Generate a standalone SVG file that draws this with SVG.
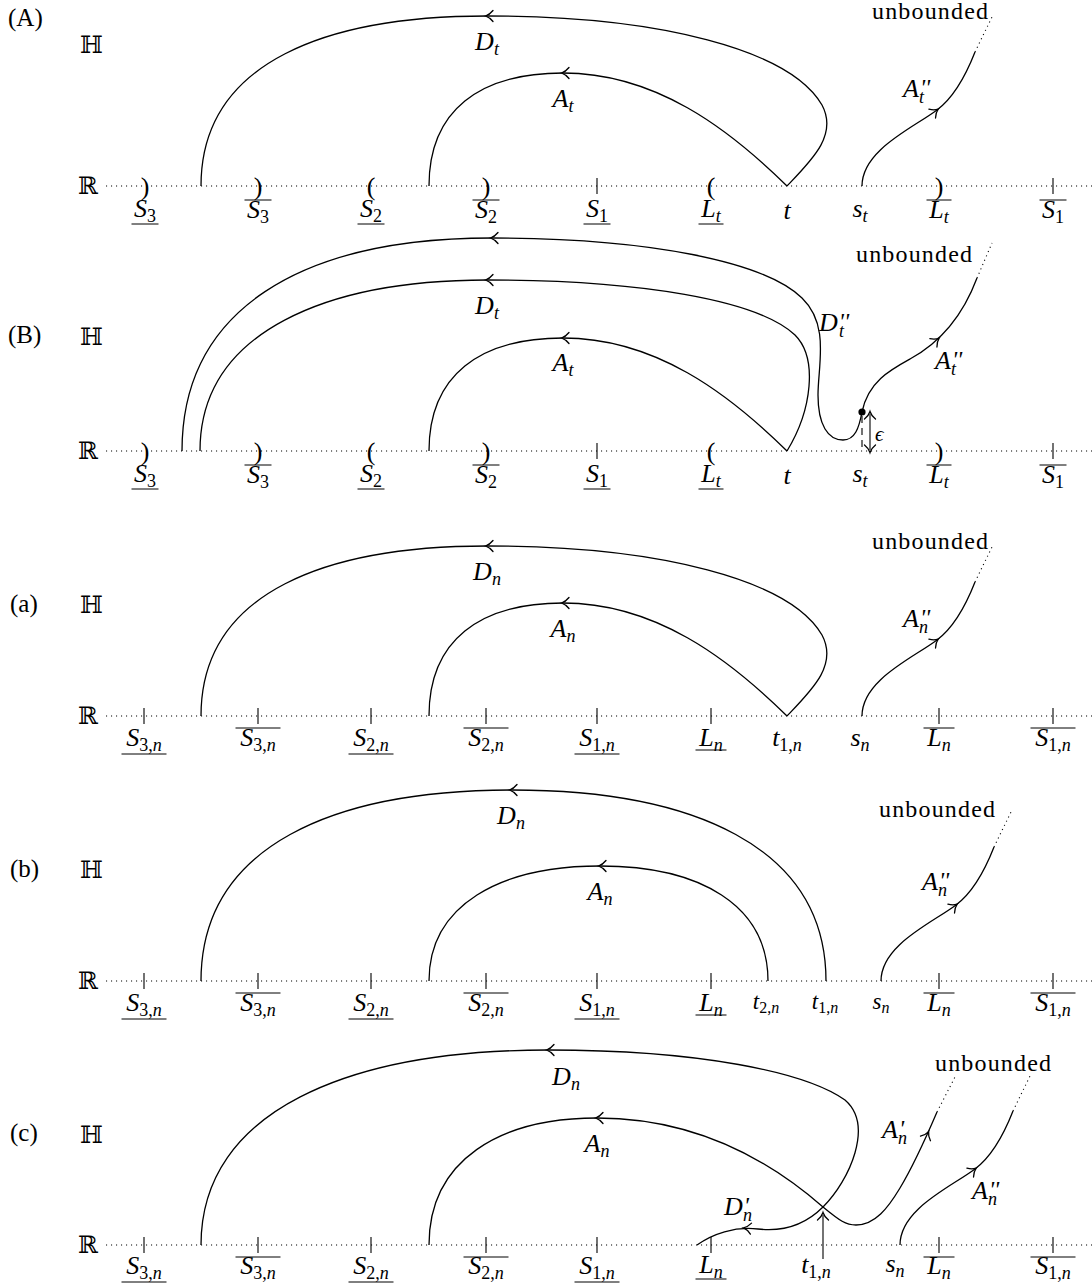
<svg xmlns="http://www.w3.org/2000/svg" width="1092" height="1285" viewBox="0 0 1092 1285">
<style>
.ax{stroke:#000;stroke-width:1.1;stroke-dasharray:1.1 3.9;fill:none}
.c{fill:none;stroke:#000;stroke-width:1.3}
.dt{fill:none;stroke:#000;stroke-width:1.1;stroke-dasharray:1.1 3.6}
.tk{stroke:#000;stroke-width:1.1;fill:none}
.ln{stroke:#000;stroke-width:1;fill:none}
text{font-family:"Liberation Serif","DejaVu Serif",serif;fill:#000}
.m{font-style:italic;font-size:26px}
.ms{font-style:italic;font-size:23px}
.s{font-size:18px}
.r{font-style:normal}
.pr{font-style:italic;font-size:24px}
.pl{font-size:25px}
.bb{font-family:"DejaVu Serif","DejaVu Sans",serif;font-size:24px}
.ub{font-size:24px}
.pa{font-size:26px}
</style>
<defs>
<path id="ah" d="M-6,-5.5 Q-2.5,-1.2 1.5,0 Q-2.5,1.2 -6,5.5" fill="none" stroke="#000" stroke-width="1.3" stroke-linecap="round"/>
</defs>

<!-- ================= Panel A ================= -->
<g id="panel-A">
<text class="pl" x="8" y="26">(A)</text>
<text class="bb" x="80" y="53">ℍ</text>
<text class="bb" x="78" y="194">ℝ</text>
<path class="ax" d="M106,186H1092"/>
<g id="A-ticks">
<text class="pa" text-anchor="middle" x="145" y="195">)</text>
<text class="pa" text-anchor="middle" x="258" y="195">)</text>
<text class="pa" text-anchor="middle" x="371" y="195">(</text>
<text class="pa" text-anchor="middle" x="486" y="195">)</text>
<text class="pa" text-anchor="middle" x="711" y="195">(</text>
<text class="pa" text-anchor="middle" x="939" y="195">)</text>
<path class="tk" d="M597,178v16M1053,178v16"/>
</g>
<g id="A-labels">
<text class="m" text-anchor="middle" x="145" y="217">S<tspan class="s r" dy="5">3</tspan></text>
<text class="m" text-anchor="middle" x="258" y="218">S<tspan class="s r" dy="5">3</tspan></text>
<text class="m" text-anchor="middle" x="371" y="217">S<tspan class="s r" dy="5">2</tspan></text>
<text class="m" text-anchor="middle" x="486" y="218">S<tspan class="s r" dy="5">2</tspan></text>
<text class="m" text-anchor="middle" x="597" y="217">S<tspan class="s r" dy="5">1</tspan></text>
<text class="m" text-anchor="middle" x="711" y="217">L<tspan class="s" dy="5">t</tspan></text>
<text class="m" text-anchor="middle" x="787" y="219">t</text>
<text class="m" text-anchor="middle" x="860" y="217">s<tspan class="s" dy="5">t</tspan></text>
<text class="m" text-anchor="middle" x="939" y="218">L<tspan class="s" dy="5">t</tspan></text>
<text class="m" text-anchor="middle" x="1053" y="218">S<tspan class="s r" dy="5">1</tspan></text>
<path class="ln" d="M131.5,224h27M357.5,224h27M583.5,224h27M698.5,224h25M244.5,200h27M472.5,200h27M926.5,200h25M1039.5,200h27"/>
<text class="m" text-anchor="middle" x="487" y="50">D<tspan class="s" dy="5">t</tspan></text>
<text class="m" text-anchor="middle" x="563" y="107">A<tspan class="s" dy="5">t</tspan></text>
<text class="m" x="903" y="97">A<tspan class="pr" dx="1" dy="-2">''</tspan><tspan class="s" x="919" y="103">t</tspan></text>
<text class="ub" x="872" y="19" textLength="116" lengthAdjust="spacing">unbounded</text>
</g>
<g id="A-connectors">
<path class="c" d="M201,186C201,60 330,16 487,16C660,16 790,50 822,105C838,135 812,160 787,186"/>
<path class="c" d="M429,186C429,110 480,73 563,73C655,73 728,128 787,186"/>
<path class="c" d="M862,186C862,150 913,128 937,110C953,98 966,75 975,52"/>
<path class="dt" d="M975,52L992,17"/>
<use href="#ah" transform="translate(487,16) rotate(180)"/>
<use href="#ah" transform="translate(563,73) rotate(180)"/>
<use href="#ah" transform="translate(937,110) rotate(-37)"/>
</g>
</g>

<!-- ================= Panel B ================= -->
<g id="panel-B">
<text class="pl" x="8" y="343">(B)</text>
<text class="bb" x="80" y="345">ℍ</text>
<text class="bb" x="78" y="459">ℝ</text>
<path class="ax" d="M106,451H1092"/>
<g id="B-ticks">
<text class="pa" text-anchor="middle" x="145" y="460">)</text>
<text class="pa" text-anchor="middle" x="258" y="460">)</text>
<text class="pa" text-anchor="middle" x="371" y="460">(</text>
<text class="pa" text-anchor="middle" x="486" y="460">)</text>
<text class="pa" text-anchor="middle" x="711" y="460">(</text>
<text class="pa" text-anchor="middle" x="939" y="460">)</text>
<path class="tk" d="M597,443v16M1053,443v16"/>
</g>
<g id="B-labels">
<text class="m" text-anchor="middle" x="145" y="482">S<tspan class="s r" dy="5">3</tspan></text>
<text class="m" text-anchor="middle" x="258" y="483">S<tspan class="s r" dy="5">3</tspan></text>
<text class="m" text-anchor="middle" x="371" y="482">S<tspan class="s r" dy="5">2</tspan></text>
<text class="m" text-anchor="middle" x="486" y="483">S<tspan class="s r" dy="5">2</tspan></text>
<text class="m" text-anchor="middle" x="597" y="482">S<tspan class="s r" dy="5">1</tspan></text>
<text class="m" text-anchor="middle" x="711" y="482">L<tspan class="s" dy="5">t</tspan></text>
<text class="m" text-anchor="middle" x="787" y="484">t</text>
<text class="m" text-anchor="middle" x="860" y="482">s<tspan class="s" dy="5">t</tspan></text>
<text class="m" text-anchor="middle" x="939" y="483">L<tspan class="s" dy="5">t</tspan></text>
<text class="m" text-anchor="middle" x="1053" y="483">S<tspan class="s r" dy="5">1</tspan></text>
<path class="ln" d="M131.5,489h27M357.5,489h27M583.5,489h27M698.5,489h25M244.5,465h27M472.5,465h27M926.5,465h25M1039.5,465h27"/>
<text class="m" text-anchor="middle" x="487" y="314">D<tspan class="s" dy="5">t</tspan></text>
<text class="m" text-anchor="middle" x="563" y="371">A<tspan class="s" dy="5">t</tspan></text>
<text class="m" x="819" y="331">D<tspan class="pr" dx="1" dy="-2">''</tspan><tspan class="s" x="839" y="337">t</tspan></text>
<text class="m" x="935" y="369">A<tspan class="pr" dx="1" dy="-2">''</tspan><tspan class="s" x="951" y="375">t</tspan></text>
<text class="ub" x="856" y="262" textLength="116" lengthAdjust="spacing">unbounded</text>
<text x="875" y="441" style="font-size:21px;font-style:italic">ϵ</text>
</g>
<g id="B-connectors">
<path class="c" d="M182,451C182,310 300,238 492,238C650,238 765,262 802,298C830,325 818,365 818,395C818,425 828,440 843,440C855,440 859,428 862,412"/>
<path class="c" d="M200,451C200,330 330,280 487,280C640,280 758,300 795,335C818,358 812,410 787,451"/>
<path class="c" d="M429,451C429,375 480,338 563,338C655,338 728,393 787,451"/>
<path class="c" d="M862,412C868,382 890,370 910,359C945,340 965,310 977,278"/>
<path class="dt" d="M977,278L992,243"/>
<circle cx="862" cy="412" r="3.6" fill="#000"/>
<path class="tk" d="M862,416V451" stroke-dasharray="7 5"/>
<path class="tk" d="M870,414V450"/>
<use href="#ah" transform="translate(870,413) rotate(-90)"/>
<use href="#ah" transform="translate(870,451) rotate(90)"/>
<use href="#ah" transform="translate(492,238) rotate(180)"/>
<use href="#ah" transform="translate(487,280) rotate(180)"/>
<use href="#ah" transform="translate(563,338) rotate(180)"/>
<use href="#ah" transform="translate(938,339) rotate(-40)"/>
</g>
</g>

<!-- ================= Panel a ================= -->
<g id="panel-a">
<text class="pl" x="10" y="612">(a)</text>
<text class="bb" x="80" y="613">ℍ</text>
<text class="bb" x="78" y="724">ℝ</text>
<path class="ax" d="M106,716H1092"/>
<path class="tk" d="M144,708v16M258,708v16M371,708v16M486,708v16M597,708v16M711,708v16M939,708v16M1053,708v16"/>
<g id="a-labels">
<text class="m" text-anchor="middle" x="144" y="746">S<tspan class="s" dy="5"><tspan class="r">3,</tspan>n</tspan></text>
<text class="m" text-anchor="middle" x="258" y="746">S<tspan class="s" dy="5"><tspan class="r">3,</tspan>n</tspan></text>
<text class="m" text-anchor="middle" x="371" y="746">S<tspan class="s" dy="5"><tspan class="r">2,</tspan>n</tspan></text>
<text class="m" text-anchor="middle" x="486" y="746">S<tspan class="s" dy="5"><tspan class="r">2,</tspan>n</tspan></text>
<text class="m" text-anchor="middle" x="597" y="746">S<tspan class="s" dy="5"><tspan class="r">1,</tspan>n</tspan></text>
<text class="m" text-anchor="middle" x="711" y="746">L<tspan class="s" dy="5">n</tspan></text>
<text class="m" text-anchor="middle" x="787" y="746">t<tspan class="s" dy="5"><tspan class="r">1,</tspan>n</tspan></text>
<text class="m" text-anchor="middle" x="860" y="746">s<tspan class="s" dy="5">n</tspan></text>
<text class="m" text-anchor="middle" x="939" y="746">L<tspan class="s" dy="5">n</tspan></text>
<text class="m" text-anchor="middle" x="1053" y="746">S<tspan class="s" dy="5"><tspan class="r">1,</tspan>n</tspan></text>
<path class="ln" d="M121.5,754h45M348.5,754h45M574.5,754h45M695.5,750h31M235.5,728h45M463.5,728h45M923.5,728h31M1030.5,728h45"/>
<text class="m" text-anchor="middle" x="487" y="580">D<tspan class="s" dy="5">n</tspan></text>
<text class="m" text-anchor="middle" x="563" y="637">A<tspan class="s" dy="5">n</tspan></text>
<text class="m" x="903" y="627">A<tspan class="pr" dx="1" dy="-2">''</tspan><tspan class="s" x="919" y="633">n</tspan></text>
<text class="ub" x="872" y="549" textLength="116" lengthAdjust="spacing">unbounded</text>
</g>
<g id="a-connectors">
<path class="c" d="M201,716C201,590 330,546 487,546C660,546 790,580 822,635C838,665 812,690 787,716"/>
<path class="c" d="M429,716C429,640 480,603 563,603C655,603 728,658 787,716"/>
<path class="c" d="M862,716C862,680 913,658 937,640C953,628 966,605 975,582"/>
<path class="dt" d="M975,582L992,547"/>
<use href="#ah" transform="translate(487,546) rotate(180)"/>
<use href="#ah" transform="translate(563,603) rotate(180)"/>
<use href="#ah" transform="translate(937,640) rotate(-37)"/>
</g>
</g>

<!-- ================= Panel b ================= -->
<g id="panel-b">
<text class="pl" x="10" y="877">(b)</text>
<text class="bb" x="80" y="878">ℍ</text>
<text class="bb" x="78" y="989">ℝ</text>
<path class="ax" d="M106,981H1092"/>
<path class="tk" d="M144,973v16M258,973v16M371,973v16M486,973v16M597,973v16M711,973v16M939,973v16M1053,973v16"/>
<g id="b-labels">
<text class="m" text-anchor="middle" x="144" y="1011">S<tspan class="s" dy="5"><tspan class="r">3,</tspan>n</tspan></text>
<text class="m" text-anchor="middle" x="258" y="1011">S<tspan class="s" dy="5"><tspan class="r">3,</tspan>n</tspan></text>
<text class="m" text-anchor="middle" x="371" y="1011">S<tspan class="s" dy="5"><tspan class="r">2,</tspan>n</tspan></text>
<text class="m" text-anchor="middle" x="486" y="1011">S<tspan class="s" dy="5"><tspan class="r">2,</tspan>n</tspan></text>
<text class="m" text-anchor="middle" x="597" y="1011">S<tspan class="s" dy="5"><tspan class="r">1,</tspan>n</tspan></text>
<text class="m" text-anchor="middle" x="711" y="1011">L<tspan class="s" dy="5">n</tspan></text>
<text class="ms" text-anchor="middle" x="766" y="1009">t<tspan class="s" style="font-size:16px" dy="4"><tspan class="r">2,</tspan>n</tspan></text>
<text class="ms" text-anchor="middle" x="825" y="1009">t<tspan class="s" style="font-size:16px" dy="4"><tspan class="r">1,</tspan>n</tspan></text>
<text class="ms" text-anchor="middle" x="881" y="1009">s<tspan class="s" style="font-size:16px" dy="4">n</tspan></text>
<text class="m" text-anchor="middle" x="939" y="1011">L<tspan class="s" dy="5">n</tspan></text>
<text class="m" text-anchor="middle" x="1053" y="1011">S<tspan class="s" dy="5"><tspan class="r">1,</tspan>n</tspan></text>
<path class="ln" d="M121.5,1019h45M348.5,1019h45M574.5,1019h45M695.5,1015h31M235.5,993h45M463.5,993h45M923.5,993h31M1030.5,993h45"/>
<text class="m" text-anchor="middle" x="511" y="824">D<tspan class="s" dy="5">n</tspan></text>
<text class="m" text-anchor="middle" x="600" y="900">A<tspan class="s" dy="5">n</tspan></text>
<text class="m" x="922" y="890">A<tspan class="pr" dx="1" dy="-2">''</tspan><tspan class="s" x="938" y="896">n</tspan></text>
<text class="ub" x="879" y="817" textLength="116" lengthAdjust="spacing">unbounded</text>
</g>
<g id="b-connectors">
<path class="c" d="M201,981C201,845 335,790 512,790C690,790 826,845 826,981"/>
<path class="c" d="M429,981C429,905 500,866 600,866C700,866 768,905 768,981"/>
<path class="c" d="M881,981C881,945 932,923 956,905C972,893 985,870 994,847"/>
<path class="dt" d="M994,847L1011,812"/>
<use href="#ah" transform="translate(511,790) rotate(180)"/>
<use href="#ah" transform="translate(600,866) rotate(180)"/>
<use href="#ah" transform="translate(956,905) rotate(-37)"/>
</g>
</g>

<!-- ================= Panel c ================= -->
<g id="panel-c">
<text class="pl" x="10" y="1141">(c)</text>
<text class="bb" x="80" y="1143">ℍ</text>
<text class="bb" x="78" y="1253">ℝ</text>
<path class="ax" d="M106,1245H1092"/>
<path class="tk" d="M144,1237v16M258,1237v16M371,1237v16M486,1237v16M597,1237v16M711,1237v16M939,1237v16M1053,1237v16"/>
<g id="c-labels">
<text class="m" text-anchor="middle" x="144" y="1274">S<tspan class="s" dy="5"><tspan class="r">3,</tspan>n</tspan></text>
<text class="m" text-anchor="middle" x="258" y="1274">S<tspan class="s" dy="5"><tspan class="r">3,</tspan>n</tspan></text>
<text class="m" text-anchor="middle" x="371" y="1274">S<tspan class="s" dy="5"><tspan class="r">2,</tspan>n</tspan></text>
<text class="m" text-anchor="middle" x="486" y="1274">S<tspan class="s" dy="5"><tspan class="r">2,</tspan>n</tspan></text>
<text class="m" text-anchor="middle" x="597" y="1274">S<tspan class="s" dy="5"><tspan class="r">1,</tspan>n</tspan></text>
<text class="m" text-anchor="middle" x="711" y="1273">L<tspan class="s" dy="5">n</tspan></text>
<text class="m" text-anchor="middle" x="816" y="1273">t<tspan class="s" dy="5"><tspan class="r">1,</tspan>n</tspan></text>
<text class="m" text-anchor="middle" x="895" y="1272">s<tspan class="s" dy="5">n</tspan></text>
<text class="m" text-anchor="middle" x="939" y="1274">L<tspan class="s" dy="5">n</tspan></text>
<text class="m" text-anchor="middle" x="1053" y="1274">S<tspan class="s" dy="5"><tspan class="r">1,</tspan>n</tspan></text>
<path class="ln" d="M121.5,1282h45M348.5,1282h45M574.5,1282h45M695.5,1279h31M235.5,1257h45M463.5,1257h45M923.5,1257h31M1030.5,1257h45"/>
<text class="m" text-anchor="middle" x="566" y="1085">D<tspan class="s" dy="5">n</tspan></text>
<text class="m" text-anchor="middle" x="597" y="1152">A<tspan class="s" dy="5">n</tspan></text>
<text class="m" x="724" y="1215">D<tspan class="pr" dx="1" dy="-2">'</tspan><tspan class="s" x="743" y="1221">n</tspan></text>
<text class="m" x="882" y="1138">A<tspan class="pr" dx="1" dy="-2">'</tspan><tspan class="s" x="898" y="1144">n</tspan></text>
<text class="m" x="972" y="1199">A<tspan class="pr" dx="1" dy="-2">''</tspan><tspan class="s" x="988" y="1205">n</tspan></text>
<text class="ub" x="935" y="1071" textLength="116" lengthAdjust="spacing">unbounded</text>
</g>
<g id="c-connectors">
<path class="c" d="M201,1245C201,1110 350,1050 548,1050C700,1050 805,1072 845,1100C874,1125 850,1180 823,1207C800,1230 775,1231 758,1229C735,1226 712,1234 697,1245"/>
<path class="c" d="M429,1245C429,1160 500,1118 597,1118C700,1118 775,1165 823,1207C840,1221 846,1225 856,1225C875,1225 888,1208 900,1188C912,1168 925,1140 937,1112"/>
<path class="dt" d="M937,1112L955,1077"/>
<path class="c" d="M900,1245C900,1209 951,1187 975,1169C991,1157 1004,1134 1013,1111"/>
<path class="dt" d="M1013,1111L1030,1076"/>
<path class="tk" d="M823,1259V1215"/>
<use href="#ah" transform="translate(823,1214) rotate(-90)"/>
<use href="#ah" transform="translate(548,1050) rotate(180)"/>
<use href="#ah" transform="translate(597,1118) rotate(180)"/>
<use href="#ah" transform="translate(745,1228) rotate(186)"/>
<use href="#ah" transform="translate(928,1133) rotate(-65)"/>
<use href="#ah" transform="translate(975,1169) rotate(-37)"/>
</g>
</g>
</svg>
